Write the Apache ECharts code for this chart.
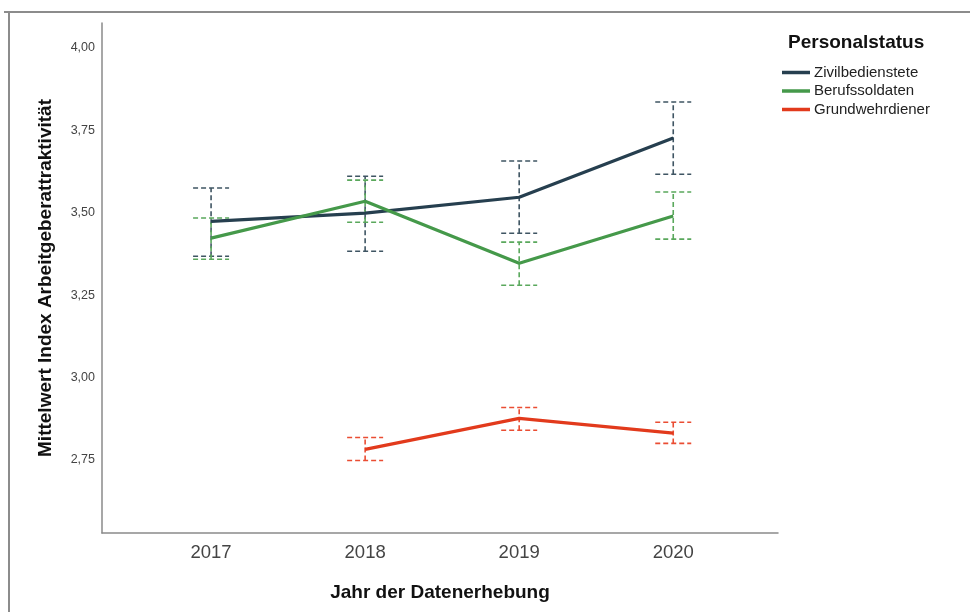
<!DOCTYPE html>
<html>
<head>
<meta charset="utf-8">
<script src="https://cdn.jsdelivr.net/npm/echarts@6/dist/echarts.min.js"></script>
<style>
  html, body { margin: 0; padding: 0; background: #fff; }
  #chart { width: 970px; height: 612px; }
</style>
</head>
<body>
<div id="chart"></div>
<script>
// Survey years
const years = [2017, 2018, 2019, 2020];
const yTicks = [2.75, 3.00, 3.25, 3.50, 3.75, 4.00];

// Means and 95% confidence interval bounds per personnel group
const zivilMean = [3.474, 3.499, 3.547, 3.727];
const zivilLow  = [3.368, 3.383, 3.438, 3.617];
const zivilHigh = [3.575, 3.611, 3.657, 3.836];

const berufMean = [3.423, 3.535, 3.347, 3.490];
const berufLow  = [3.359, 3.471, 3.280, 3.420];
const berufHigh = [3.484, 3.599, 3.411, 3.563];

const grundMean = [null, 2.782, 2.876, 2.831];
const grundLow  = [null, 2.748, 2.840, 2.800];
const grundHigh = [null, 2.818, 2.909, 2.864];

const groups = [
  { name: 'Zivilbedienstete', mean: zivilMean, low: zivilLow, high: zivilHigh, color: '#263f4f', barColor: '#3f5563' },
  { name: 'Berufssoldaten',   mean: berufMean, low: berufLow, high: berufHigh, color: '#45994a', barColor: '#5aa85c' },
  { name: 'Grundwehrdiener',  mean: grundMean, low: grundLow, high: grundHigh, color: '#e23a1c', barColor: '#ea4d33' }
];

const font = '"Liberation Sans", Arial, sans-serif';

function pairs(vals) {
  const out = [];
  years.forEach((y, i) => { if (vals[i] != null) out.push([y, vals[i]]); });
  return out;
}

function errorData(g) {
  const out = [];
  years.forEach((y, i) => { if (g.mean[i] != null) out.push([y, g.low[i], g.high[i]]); });
  return out;
}

const series = [];
groups.forEach(g => {
  series.push({
    name: g.name,
    type: 'line',
    data: pairs(g.mean),
    symbol: 'none',
    lineStyle: { color: g.color, width: 3.2 },
    itemStyle: { color: g.color },
    z: 3
  });
});
groups.forEach(g => {
  series.push({
    name: g.name + ' KI',
    type: 'custom',
    data: errorData(g),
    z: 2,
    renderItem: function (params, api) {
      const x = api.value(0);
      const lo = api.coord([x, api.value(1)]);
      const hi = api.coord([x, api.value(2)]);
      const half = 18;
      const style = { stroke: g.barColor, lineWidth: 1.6, lineDash: [5, 3], fill: null };
      return {
        type: 'group',
        children: [
          { type: 'line', shape: { x1: lo[0], y1: lo[1], x2: hi[0], y2: hi[1] }, style: style },
          { type: 'line', shape: { x1: hi[0] - half, y1: hi[1], x2: hi[0] + half, y2: hi[1] }, style: style },
          { type: 'line', shape: { x1: lo[0] - half, y1: lo[1], x2: lo[0] + half, y2: lo[1] }, style: style }
        ]
      };
    }
  });
});

const chart = echarts.init(document.getElementById('chart'), null, { renderer: 'canvas' });
chart.setOption({
  animation: false,
  backgroundColor: '#ffffff',
  title: {
    text: 'Personalstatus',
    left: 783,
    top: 28,
    textStyle: { fontFamily: font, fontSize: 19, fontWeight: 'bold', color: '#111' }
  },
  legend: {
    orient: 'vertical',
    left: 782,
    top: 65,
    padding: 0,
    icon: 'rect',
    itemWidth: 28,
    itemHeight: 3.5,
    itemGap: 3.5,
    data: groups.map(g => g.name),
    textStyle: { fontFamily: font, fontSize: 15, color: '#222', lineHeight: 15, padding: [0, 0, 0, -1] }
  },
  grid: { left: 102, top: 23, width: 676, height: 510, containLabel: false },
  xAxis: {
    type: 'value',
    min: 2016.292,
    max: 2020.68,
    name: 'Jahr der Datenerhebung',
    nameLocation: 'middle',
    nameGap: 50,
    nameTextStyle: { fontFamily: font, fontSize: 19, fontWeight: 'bold', color: '#111' },
    axisLine: { lineStyle: { color: '#8a8a8a', width: 1.5 } },
    axisTick: { show: false },
    splitLine: { show: false },
    axisLabel: {
      customValues: years,
      formatter: v => String(v),
      margin: 10,
      fontFamily: font,
      fontSize: 18.5,
      color: '#444'
    }
  },
  yAxis: {
    type: 'value',
    min: 2.528,
    max: 4.076,
    name: 'Mittelwert Index Arbeitgeberattraktivität',
    nameLocation: 'middle',
    nameGap: 47,
    nameTextStyle: { fontFamily: font, fontSize: 19, fontWeight: 'bold', color: '#111' },
    axisLine: { show: true, lineStyle: { color: '#8a8a8a', width: 1.5 } },
    axisTick: { show: false },
    splitLine: { show: false },
    axisLabel: {
      customValues: yTicks,
      formatter: v => v.toFixed(2).replace('.', ','),
      margin: 7,
      fontFamily: font,
      fontSize: 12.5,
      color: '#444'
    }
  },
  graphic: [
    { type: 'line', shape: { x1: 4, y1: 12, x2: 970, y2: 12 }, style: { stroke: '#8c8c8c', lineWidth: 2 } },
    { type: 'line', shape: { x1: 9, y1: 12, x2: 9, y2: 612 }, style: { stroke: '#8c8c8c', lineWidth: 2 } }
  ],
  series: series
});
</script>
</body>
</html>
